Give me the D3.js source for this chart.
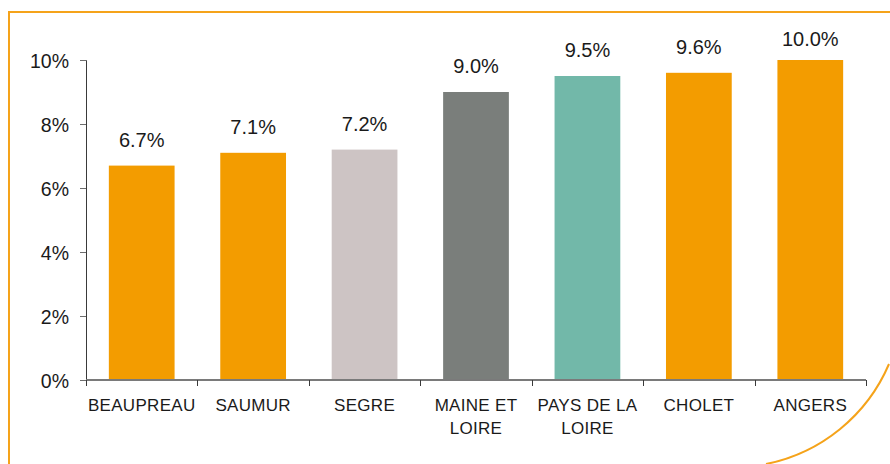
<!DOCTYPE html>
<html>
  <head>
    <meta charset="UTF-8">
    <style>
      body {
        margin: 0;
        font-family: "Liberation Sans", Arial, sans-serif;
        background: white;
      }

      .y-axis text {
        font-size: 19.5px;
        fill: #1a1a1a;
      }

      .x-axis text {
        font-size: 17px;
        fill: #1a1a1a;
        letter-spacing: 0.3px;
      }

      .value-label {
        font-size: 20px;
        fill: #1a1a1a;
      }
    </style>
    <script src="https://d3js.org/d3.v7.min.js"></script>
  </head>

  <body>
    <svg id="chart"></svg>

    <script type="text/javascript">
      let categories = ['BEAUPREAU', 'SAUMUR', 'SEGRE', 'MAINE ET LOIRE', 'PAYS DE LA LOIRE', 'CHOLET', 'ANGERS']
      let values = [6.7, 7.1, 7.2, 9.0, 9.5, 9.6, 10.0]
      let valueLabels = ['6.7%', '7.1%', '7.2%', '9.0%', '9.5%', '9.6%', '10.0%']
      let yTicks = [0, 2, 4, 6, 8, 10]

      function getChartConfig() {
        let width = 890
        let height = 464
        let margin = {
          top: 60,
          bottom: 84,
          left: 86,
          right: 24
        }

        let bodyHeight = height - margin.top - margin.bottom
        let bodyWidth = width - margin.left - margin.right

        let container = d3.select('#chart')
          .attr('width', width)
          .attr('height', height)

        return { width, height, margin, bodyHeight, bodyWidth, container }
      }

      function getScales(config) {
        let x = d3.scaleBand()
          .domain(categories)
          .range([0, config.bodyWidth])
          .paddingInner(0.41)
          .paddingOuter(0.205)

        let y = d3.scaleLinear()
          .domain([0, 10])
          .range([config.bodyHeight, 0])

        let color = d3.scaleOrdinal()
          .domain(categories)
          .range(['#f39c00', '#f39c00', '#cdc4c4', '#7a7e7b', '#72b8a9', '#f39c00', '#f39c00'])

        return { x, y, color }
      }

      function drawFrame(config) {
        let c = config.container
        let orange = '#f5a31a'

        // frame: top and left edges, curved corner bottom right
        c.append('path')
          .attr('d', `M 9 ${config.height} L 9 12 L ${config.width} 12`)
          .attr('fill', 'none')
          .attr('stroke', orange)
          .attr('stroke-width', 2)

        c.append('path')
          .attr('d', `M 889 364 A 170 170 0 0 1 766 464`)
          .attr('fill', 'none')
          .attr('stroke', orange)
          .attr('stroke-width', 2)
      }

      function drawChart(scales, config) {
        let { x, y, color } = scales
        let g = config.container.append('g')
          .attr('transform', `translate(${config.margin.left}, ${config.margin.top})`)

        g.selectAll('.bar')
          .data(values)
          .enter()
          .append('rect')
          .attr('class', 'bar')
          .attr('x', (d, i) => x(categories[i]))
          .attr('width', x.bandwidth())
          .attr('y', d => y(d))
          .attr('height', d => y(0) - y(d))
          .attr('fill', (d, i) => color(categories[i]))

        // labels sit 19px above the bar, but never above the plot's top limit
        g.selectAll('.value-label')
          .data(values)
          .enter()
          .append('text')
          .attr('class', 'value-label')
          .attr('x', (d, i) => x(categories[i]) + x.bandwidth() / 2)
          .attr('y', d => Math.max(y(d) - 19, -14))
          .attr('text-anchor', 'middle')
          .text((d, i) => valueLabels[i])

        // y axis
        let yAxis = g.append('g')
          .attr('class', 'y-axis')
          .call(d3.axisLeft(y).tickValues(yTicks).tickFormat(d => d + '%').tickSize(6).tickPadding(11))
        yAxis.select('.domain').attr('stroke', '#3a3a3a').attr('d', `M -6 0.5 H 0.5 V ${config.bodyHeight}`)
        yAxis.selectAll('.tick line').attr('stroke', '#6e6e6e')
        yAxis.selectAll('.tick text').attr('dy', '0.36em')

        // x axis with ticks between categories
        let xAxis = g.append('g')
          .attr('class', 'x-axis')
          .attr('transform', `translate(0, ${config.bodyHeight})`)
        xAxis.append('line')
          .attr('x1', 0)
          .attr('x2', config.bodyWidth)
          .attr('stroke', '#7a7a7a')
          .attr('stroke-width', 2)

        let step = x.step()
        let boundaries = d3.range(categories.length + 1).map(i => Math.round(i * step) + 0.5)
        xAxis.selectAll('.sep')
          .data(boundaries)
          .enter()
          .append('line')
          .attr('class', 'sep')
          .attr('x1', d => d)
          .attr('x2', d => d)
          .attr('y1', 0)
          .attr('y2', 6)
          .attr('stroke', '#3a3a3a')

        let labels = xAxis.selectAll('.cat')
          .data(categories)
          .enter()
          .append('text')
          .attr('class', 'cat')
          .attr('text-anchor', 'middle')
          .attr('transform', d => `translate(${x(d) + x.bandwidth() / 2}, 31)`)

        labels.each(function (d) {
          let words = d.split(' ')
          let lines = d.length > 10 ? [words.slice(0, -1).join(' '), words[words.length - 1]] : [d]
          d3.select(this).selectAll('tspan')
            .data(lines)
            .enter()
            .append('tspan')
            .attr('x', 0)
            .attr('dy', (l, i) => i === 0 ? 0 : 23)
            .text(l => l)
        })
      }

      let config = getChartConfig()
      let scales = getScales(config)
      drawFrame(config)
      drawChart(scales, config)
    </script>
  </body>
</html>
